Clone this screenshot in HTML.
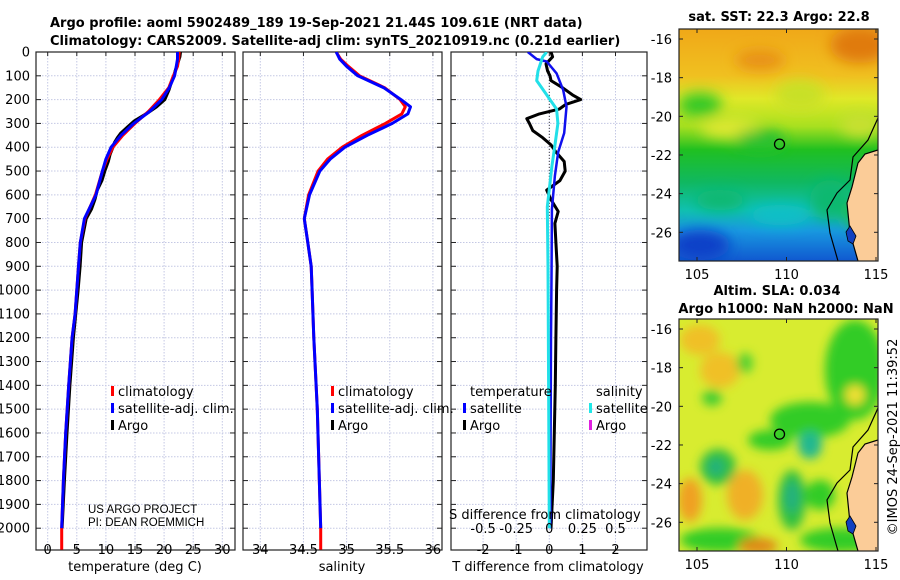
<!DOCTYPE html>
<html><head><meta charset="utf-8"><style>
html,body{margin:0;padding:0;background:#fff;}
svg{display:block;font-family:"DejaVu Sans","Liberation Sans",sans-serif;}
</style></head><body>
<svg id="fig" width="900" height="580" viewBox="0 0 900 580" xmlns="http://www.w3.org/2000/svg">
<defs>
  <clipPath id="cp1"><rect x="36" y="52" width="199" height="498"/></clipPath>
  <clipPath id="cp2"><rect x="243" y="52" width="199" height="498"/></clipPath>
  <clipPath id="cp3"><rect x="451" y="52" width="196" height="498"/></clipPath>
  <clipPath id="cm1"><rect x="679" y="29" width="199" height="232"/></clipPath>
  <clipPath id="cm2"><rect x="679" y="319" width="199" height="232"/></clipPath>
  <filter id="bl" x="-50%" y="-50%" width="200%" height="200%"><feGaussianBlur stdDeviation="7"/></filter>
  <filter id="bl2" x="-50%" y="-50%" width="200%" height="200%"><feGaussianBlur stdDeviation="5"/></filter>
  <linearGradient id="sstg" x1="0" y1="0" x2="0" y2="1">
    <stop offset="0" stop-color="#f0a818"/>
    <stop offset="0.2" stop-color="#f0c020"/>
    <stop offset="0.3" stop-color="#e0e828"/>
    <stop offset="0.42" stop-color="#a8e020"/>
    <stop offset="0.52" stop-color="#20c020"/>
    <stop offset="0.66" stop-color="#10b860"/>
    <stop offset="0.78" stop-color="#10c0b0"/>
    <stop offset="0.87" stop-color="#1898e0"/>
    <stop offset="1" stop-color="#1058d0"/>
  </linearGradient>
</defs>
<g id="titles" font-weight="bold" font-size="13" fill="#000">
  <text x="50" y="27">Argo profile: aoml 5902489_189 19-Sep-2021 21.44S 109.61E (NRT data)</text>
  <text x="50" y="45">Climatology: CARS2009. Satellite-adj clim: synTS_20210919.nc (0.21d earlier)</text>
</g>
<g id="panels"></g>
<g id="maps"></g>
</svg>
<script>
// ---------- data ----------
const depthTicks = [0,100,200,300,400,500,600,700,800,900,1000,1100,1200,1300,1400,1500,1600,1700,1800,1900,2000];
const tempTicks = [0,5,10,15,20,25,30];
const salTicks = [34,34.5,35,35.5,36];
const salTickLabels = ["34","34.5","35","35.5","36"];
const tdiffTicks = [-2,-1,0,1,2];
const sdiffTicks = [-0.5,-0.25,0,0.25,0.5];
const sdiffTickLabels = ["-0.5","-0.25","0","0.25","0.5"];

const climTDepth = [0,30,60,100,150,200,250,300,350,400,450,500,600,700,800,900,1000,1100,1200,1400,1600,1800,2000,2090];
const climT = [22.6,22.5,22.3,21.6,20.8,19.2,17.3,15.0,12.9,11.2,10.2,9.4,8.2,6.4,5.6,5.3,5.0,4.7,4.2,3.6,3.1,2.7,2.4,2.4];
const satTDepth = [0,30,60,100,150,200,250,300,350,400,450,500,600,700,800,900,1000,1100,1200,1400,1600,1800,2000];
const satT = [22.3,22.3,22.1,21.8,20.9,19.6,17.5,14.8,12.6,10.9,10.0,9.4,8.3,6.3,5.6,5.3,5.0,4.7,4.2,3.6,3.1,2.7,2.4];
const argoTDepth = [0,20,50,80,100,130,160,200,230,260,290,320,340,360,380,400,430,460,500,540,580,620,660,700,800,900,1000,1200,1400,1600,1800,2000];
const argoT = [22.8,22.7,22.3,21.9,21.7,21.2,20.8,20.1,18.7,16.9,14.9,13.5,12.6,12.0,11.5,11.2,10.7,10.4,9.8,9.3,8.5,8.1,7.5,6.6,5.8,5.55,5.2,4.4,3.8,3.3,2.85,2.45];

const climSDepth = [0,30,60,100,150,200,230,260,300,350,400,450,500,600,700,800,900,1000,1200,1500,2000,2090];
const climS = [34.88,34.93,35.02,35.15,35.44,35.62,35.68,35.64,35.45,35.18,34.95,34.78,34.67,34.56,34.51,34.55,34.59,34.6,34.62,34.66,34.70,34.70];
const satSDepth = [0,30,60,100,150,200,230,260,300,350,400,450,500,600,700,800,900,1000,1200,1500,2000];
const satS = [34.88,34.92,35.0,35.13,35.43,35.63,35.74,35.71,35.53,35.24,34.98,34.81,34.69,34.57,34.51,34.55,34.59,34.6,34.62,34.66,34.70];

const tDiffArgoDepth = [0,20,50,80,100,120,150,180,200,220,240,260,280,300,330,360,390,420,460,500,540,580,620,670,720,800,900,1000,1200,1400,1600,1800,2000];
const tDiffArgo = [0.05,0.1,-0.1,-0.05,0.02,0.05,0.4,0.7,0.95,0.5,0.3,-0.3,-0.68,-0.6,-0.5,-0.2,0.05,0.2,0.45,0.48,0.32,-0.08,0.05,0.27,0.17,0.2,0.24,0.22,0.2,0.18,0.15,0.12,0.05];
const tDiffSatDepth = [0,30,40,90,160,230,340,420,520,660,900,1200,1600,2000];
const tDiffSat = [-0.65,-0.38,-0.08,0.22,0.42,0.52,0.45,0.27,0.17,0.08,0.07,0.05,0.04,0.03];
const sDiffSatDepth = [0,20,80,120,180,240,300,380,480,650,900,1400,2000];
const sDiffSat = [-0.02,-0.05,-0.085,-0.095,-0.02,0.055,0.065,0.045,0.02,-0.015,-0.01,-0.005,0];

const latTicks = [-16,-18,-20,-22,-24,-26];
const lonTicks = [105,110,115];
const argoLon = 109.61, argoLat = -21.44;

// ---------- scales ----------
const NS = "http://www.w3.org/2000/svg";
const yD = d => 52 + d * 0.2381;
const xT = t => 47.7 + t * 5.82;
const xS = s => 260.3 + (s - 34) * 86.3;
const xTd = v => 549.3 + v * 33.1;
const xSd = v => 549.3 + v * 132.4;
const mapX = lon => 697 + (lon - 105) * 17.9;
const mapY = lat => 39 + (-16 - lat) * 19.33;

function mk(tag, attrs, parent) {
  const e = document.createElementNS(NS, tag);
  for (const k in attrs) e.setAttribute(k, attrs[k]);
  parent.appendChild(e);
  return e;
}
function txt(parent, x, y, s, size, anchor) {
  const t = mk('text', {x: x, y: y, 'font-size': size, 'text-anchor': anchor || 'start', fill: '#000'}, parent);
  t.textContent = s;
  return t;
}
const panels = document.getElementById('panels');
const frames = [[36,235,'cp1'],[243,442,'cp2'],[451,647,'cp3']];
const vGrids = [tempTicks.map(xT), salTicks.map(xS), tdiffTicks.map(xTd)];

frames.forEach((f, i) => {
  const g = mk('g', {}, panels);
  
  
  const grid = mk('g', {stroke: '#c4c8e4', 'stroke-width': 1, 'stroke-dasharray': '1.5,1.5'}, g);
  
  
  depthTicks.forEach(d => mk('line', {x1: f[0], x2: f[1], y1: yD(d), y2: yD(d)}, grid));
  vGrids[i].forEach(x => mk('line', {x1: x, x2: x, y1: 52, y2: 550}, grid));
  const ax = mk('g', {stroke: '#222', 'stroke-width': 1}, g);
  
  
  depthTicks.forEach(d => {
    mk('line', {x1: f[0], x2: f[0] + 5, y1: yD(d), y2: yD(d)}, ax);
    mk('line', {x1: f[1] - 5, x2: f[1], y1: yD(d), y2: yD(d)}, ax);
  });
  vGrids[i].forEach(x => { mk('line', {x1: x, x2: x, y1: 52, y2: 56}, ax); mk('line', {x1: x, x2: x, y1: 546, y2: 550}, ax); });
  const fr = mk('rect', {x: f[0], y: 52, width: f[1] - f[0], height: 498, fill: 'none', stroke: '#222', 'stroke-width': 1.2}, g);
  
  
});

// depth labels
const dl = mk('g', {}, panels);


depthTicks.forEach(d => txt(dl, 30, yD(d) + 4.5, String(d), 13, 'end'));

// x labels
const xl1 = mk('g', {}, panels);


tempTicks.forEach(t => txt(xl1, xT(t), 554, String(t), 13, 'middle'));
txt(xl1, 135, 571, 'temperature (deg C)', 13, 'middle');
const xl2 = mk('g', {}, panels);


salTicks.forEach((s, i) => txt(xl2, xS(s), 554, salTickLabels[i], 13, 'middle'));
txt(xl2, 342, 571, 'salinity', 13, 'middle');
const xl3 = mk('g', {}, panels);


tdiffTicks.forEach(v => txt(xl3, xTd(v), 554, String(v), 13, 'middle'));
txt(xl3, 548, 571, 'T difference from climatology', 13, 'middle');

function line(parent, xs, ds, xf, color, w, clip, name) {
  const pts = xs.map((v, i) => xf(v).toFixed(1) + ',' + yD(ds[i]).toFixed(1)).join(' ');
  const p = mk('polyline', {points: pts, fill: 'none', stroke: color, 'stroke-width': w, 'stroke-linejoin': 'round', 'clip-path': 'url(#' + clip + ')'}, parent);
  
  
  return p;
}
// panel 1
line(panels, argoT, argoTDepth, xT, '#000', 3.2, 'cp1', 'argo-temperature-line');
line(panels, climT, climTDepth, xT, '#f00', 3, 'cp1', 'climatology-temperature-line');
line(panels, satT, satTDepth, xT, '#00f', 3, 'cp1', 'satellite-temperature-line');
// panel 2
line(panels, climS, climSDepth, xS, '#f00', 3, 'cp2', 'climatology-salinity-line');
line(panels, satS, satSDepth, xS, '#00f', 3, 'cp2', 'satellite-salinity-line');
// panel 3
const zl = mk('line', {x1: xTd(0), x2: xTd(0), y1: yD(80), y2: yD(700), stroke: '#444', 'stroke-width': 1, 'stroke-dasharray': '1,2'}, panels);


line(panels, tDiffArgo, tDiffArgoDepth, xTd, '#000', 3, 'cp3', 'argo-t-difference-line');
line(panels, tDiffSat, tDiffSatDepth, xTd, '#1010ee', 2.5, 'cp3', 'satellite-t-difference-line');
line(panels, sDiffSat, sDiffSatDepth, xSd, '#22e0e8', 3, 'cp3', 'satellite-s-difference-line');

// legends
function legend(x, entries, name) {
  const g = mk('g', {}, panels);
  
  
  entries.forEach((e, i) => {
    const y = 396 + i * 17;
    if (e[1]) mk('rect', {x: x - 7, y: y - 10, width: 3, height: 10, fill: e[1]}, g);
    txt(g, x, y, e[0], 13);
  });
}
legend(118, [['climatology','#f00'],['satellite-adj. clim.','#00f'],['Argo','#000']], 'temperature-legend');
legend(338, [['climatology','#f00'],['satellite-adj. clim.','#00f'],['Argo','#000']], 'salinity-legend');
legend(470, [['temperature',null],['satellite','#00f'],['Argo','#000']], 'difference-temperature-legend');
legend(596, [['salinity',null],['satellite','#20e8e8'],['Argo','#e020e0']], 'difference-salinity-legend');

const pi = mk('g', {'font-family': '"Liberation Sans Narrow","Liberation Sans",sans-serif'}, panels);


txt(pi, 88, 513, 'US ARGO PROJECT', 11.5);
txt(pi, 88, 526, 'PI: DEAN ROEMMICH', 11.5);
const sd = mk('g', {}, panels);


txt(sd, 449, 519, 'S difference from climatology', 13);
sdiffTicks.forEach((v, i) => txt(sd, xSd(v), 533, sdiffTickLabels[i], 13, 'middle'));

// ---------- maps ----------
const maps = document.getElementById('maps');
function coast(g, dy) {
  const land = 'M878,150 L865,154 L858,163 L852,187 L847,203 L850,233 L858,261 L878,261 Z';
  const l = mk('path', {d: land, fill: '#fbcc98', transform: 'translate(0,' + dy + ')'}, g);
  
  
  mk('path', {d: 'M878,118 L868,140 L853,157 L850,180 L837,193 L827,210 L830,233 L838,261', fill: 'none', stroke: '#000', 'stroke-width': 1.2, transform: 'translate(0,' + dy + ')'}, g);
  mk('path', {d: 'M878,150 L865,154 L858,163 L852,187 L847,203 L850,233 L858,261', fill: 'none', stroke: '#000', 'stroke-width': 1.2, transform: 'translate(0,' + dy + ')'}, g);
  mk('path', {d: 'M846,232 L850,226 L856,236 L853,244 L848,241 Z', fill: '#1040c0', stroke: '#000', 'stroke-width': 0.8, transform: 'translate(0,' + dy + ')'}, g);
}
function mapAxes(g, oy) {
  latTicks.forEach(l => {
    const y = mapY(l) + oy;
    txt(g, 672, y + 5, String(l), 13, 'end');
    mk('line', {x1: 679, x2: 683, y1: y, y2: y, stroke: '#222'}, g);
    mk('line', {x1: 874, x2: 878, y1: y, y2: y, stroke: '#222'}, g);
  });
  lonTicks.forEach(l => {
    const x = mapX(l);
    txt(g, x, oy + 279, String(l), 13, 'middle');
    mk('line', {x1: x, x2: x, y1: oy + 257, y2: oy + 261, stroke: '#222'}, g);
    mk('line', {x1: x, x2: x, y1: oy + 29, y2: oy + 33, stroke: '#222'}, g);
  });
  mk('rect', {x: 679, y: 29 + oy, width: 199, height: 232, fill: 'none', stroke: '#222', 'stroke-width': 1.2}, g);
  const c = mk('circle', {cx: mapX(argoLon), cy: mapY(argoLat) + oy, r: 5, fill: 'none', stroke: '#000', 'stroke-width': 1.3}, g);
  
  
}
// map 1 SST
const m1 = mk('g', {}, maps);


const m1c = mk('g', {'clip-path': 'url(#cm1)'}, m1);
mk('rect', {x: 679, y: 29, width: 199, height: 232, fill: 'url(#sstg)'}, m1c);
const b1 = mk('g', {filter: 'url(#bl)'}, m1c);
[[860,45,30,18,'#e07a10'],[760,60,25,10,'#e89018'],[700,105,22,12,'#30c828'],[730,128,30,10,'#e0e830'],[800,95,25,15,'#c8e028'],[860,125,20,12,'#c8e030'],[700,245,30,15,'#1040c8'],[780,215,30,10,'#10c0c8'],[830,200,20,20,'#10b870'],[860,215,15,15,'#20c040'],[720,200,25,10,'#10b870'],[760,140,25,10,'#20c030']].forEach(b => mk('ellipse', {cx: b[0], cy: b[1], rx: b[2], ry: b[3], fill: b[4]}, b1));
coast(m1c, 0);
txt(m1, 779, 21, 'sat. SST: 22.3 Argo: 22.8', 13, 'middle').setAttribute('font-weight', 'bold');
mapAxes(m1, 0);

// map 2 SLA
const m2 = mk('g', {}, maps);


const m2c = mk('g', {'clip-path': 'url(#cm2)'}, m2);
mk('rect', {x: 679, y: 319, width: 199, height: 232, fill: '#d8ec30'}, m2c);
const b2 = mk('g', {filter: 'url(#bl2)'}, m2c);
[[855,370,30,50,'#30cc28'],[810,420,40,18,'#30cc28'],[810,445,12,14,'#20b890'],[770,440,22,10,'#30cc28'],[718,467,18,18,'#30c040'],[716,467,8,8,'#20b080'],[792,500,14,30,'#30c040'],[792,497,7,16,'#20b080'],[820,495,15,15,'#30cc28'],[720,540,40,12,'#30cc28'],[840,540,40,12,'#30cc28'],[690,500,12,22,'#f0a020'],[745,495,18,25,'#f0b028'],[758,546,20,8,'#e08818'],[720,370,20,18,'#f0c028'],[712,398,10,8,'#40cc30'],[745,363,8,10,'#50d030'],[855,395,10,10,'#f0e030'],[700,340,20,15,'#f0c028']].forEach(b => mk('ellipse', {cx: b[0], cy: b[1], rx: b[2], ry: b[3], fill: b[4]}, b2));
coast(m2c, 290);
const t21 = txt(m2, 777, 295, 'Altim. SLA: 0.034', 13, 'middle'); t21.setAttribute('font-weight', 'bold');
const t22 = txt(m2, 786, 313, 'Argo h1000: NaN h2000: NaN', 13, 'middle'); t22.setAttribute('font-weight', 'bold');
mapAxes(m2, 290);
const cr = txt(maps, 0, 0, '©IMOS 24-Sep-2021 11:39:52', 13, 'middle');
cr.setAttribute('transform', 'translate(897,437) rotate(-90)');


</script>
</body></html>
